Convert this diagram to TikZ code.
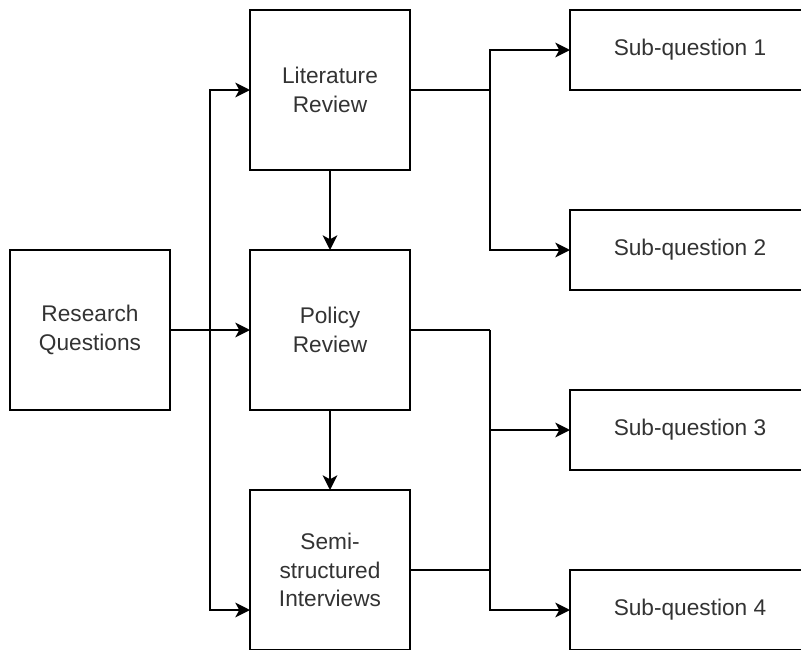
\documentclass[tikz,border=0pt]{standalone}
\usepackage{fontspec}
\setmainfont{Liberation Sans}
\usetikzlibrary{arrows.meta}
\definecolor{txt}{HTML}{333333}
\tikzset{
  box/.style={draw=black, line width=1.5pt, fill=white, inner sep=0pt, outer sep=0pt,
    align=center, text=txt, font=\fontsize{17}{21.5}\selectfont},
  bigbox/.style={box, minimum width=120pt, minimum height=120pt},
  sqbox/.style={box, minimum width=180pt, minimum height=60pt},
  conn/.style={line width=1.5pt, draw=black},
  arr/.style={conn, -{Stealth[length=11pt, width=11pt, inset=3pt]}}
}
\begin{document}
\begin{tikzpicture}[x=0.75pt, y=-0.75pt]
\useasboundingbox (0,0) rectangle (801,650);
\fill[white] (0,0) rectangle (801,650);
% nodes
\node[bigbox] (rq)   at (90,330)  {Research\\Questions};
\node[bigbox] (lit)  at (330,90)  {Literature\\Review};
\node[bigbox] (pol)  at (330,330) {Policy\\Review};
\node[bigbox] (semi) at (330,570) {Semi-\\structured\\Interviews};
\node[sqbox] (sq1) at (690,50)  {Sub-question 1};
\node[sqbox] (sq2) at (690,250) {Sub-question 2};
\node[sqbox] (sq3) at (690,430) {Sub-question 3};
\node[sqbox] (sq4) at (690,610) {Sub-question 4};
% junctions
\coordinate (j1) at (490,90);
\coordinate (j2) at (490,330);
\coordinate (j3) at (490,570);
\coordinate (j4) at (210,330);
\coordinate (semiin) at (250,610);
% connectors
\draw[arr] (rq.east) -- (pol.west);
\draw[arr] (j4) |- (lit.west);
\draw[arr] (j4) |- (semiin);
\draw[arr] (lit.south) -- (pol.north);
\draw[arr] (pol.south) -- (semi.north);
\draw[conn] (lit.east) -- (j1);
\draw[arr] (j1) |- (sq1.west);
\draw[arr] (j1) |- (sq2.west);
\draw[conn] (pol.east) -- (j2);
\draw[conn] (semi.east) -- (j3);
\draw[arr] (j2) |- (sq3.west);
\draw[arr] (j2) |- (sq4.west);
\end{tikzpicture}
\end{document}
